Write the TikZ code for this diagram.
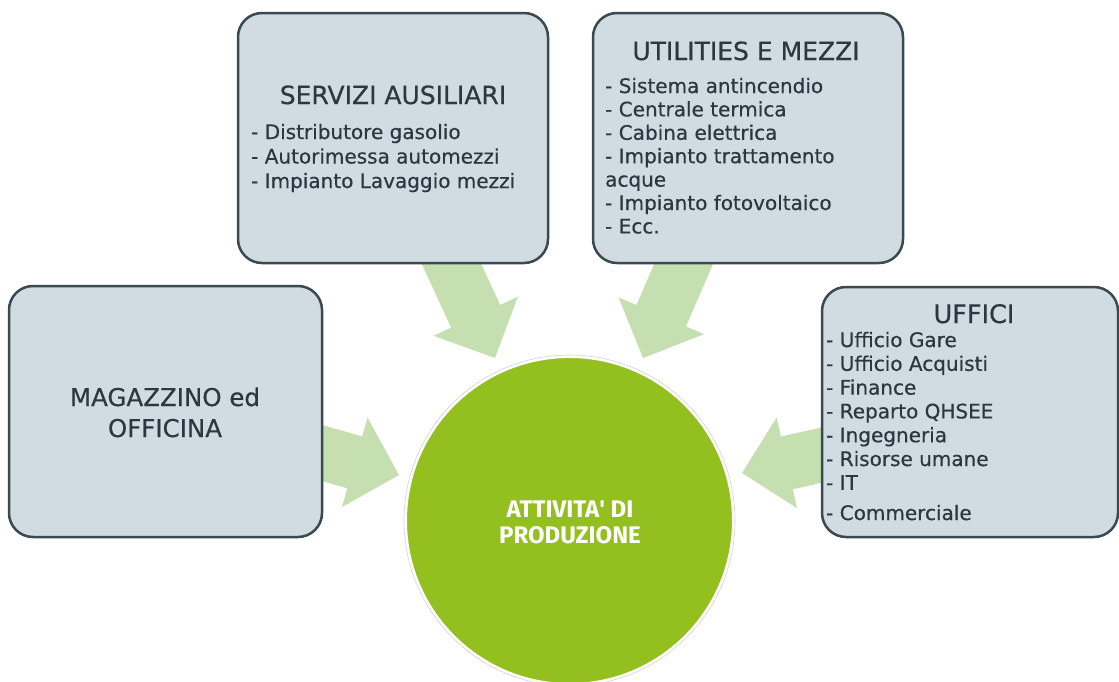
\documentclass[tikz,border=0pt]{standalone}
\usepackage{fontspec}
\setmainfont[FakeBold=0.5]{DejaVu Sans}
\newfontfamily\hubfont{Fira Sans}
\usetikzlibrary{calc}
\definecolor{boxfill}{HTML}{D0DCE1}
\definecolor{boxline}{HTML}{3A4A50}
\definecolor{txt}{HTML}{2B383F}
\definecolor{arrowgreen}{HTML}{C6DFB0}
\definecolor{hubgreen}{HTML}{93C01F}
\tikzset{
  panel/.style={draw=boxline, fill=boxfill, line width=2.5pt, rounded corners=24pt, inner sep=0pt},
  ttl/.style={text=txt, font=\fontsize{25}{29}\selectfont, anchor=base, inner sep=0pt},
  itm/.style={text=txt, font=\fontsize{20}{24}\selectfont, anchor=base west, inner sep=0pt},
  hubtxt/.style={text=white, font=\hubfont\bfseries\fontsize{24}{28}\selectfont, anchor=base, inner sep=0pt},
  blockfill/.style={fill=arrowgreen},
}
\newcommand{\blockarrow}[3]{% name, start, tip
  \coordinate (#1b) at ($(#3)!46pt!(#2)$);
  \fill[blockfill] ($(#2)!27pt!90:(#3)$) -- ($(#1b)!27pt!90:(#3)$) -- ($(#1b)!46.5pt!90:(#3)$)
    -- (#3) -- ($(#1b)!46.5pt!-90:(#3)$) -- ($(#1b)!27pt!-90:(#3)$) -- ($(#2)!27pt!-90:(#3)$) -- cycle;
}
\begin{document}
\begin{tikzpicture}[x=1pt, y=-1pt]
\useasboundingbox (0,0) rectangle (1119,681);
\clip (0,0) rectangle (1119,681);
% arrow anchors
\coordinate (s1) at (440.4,240); \coordinate (t1) at (495,358);
\coordinate (s2) at (693.9,240); \coordinate (t2) at (643,358);
\coordinate (s3) at (300,446.7); \coordinate (t3) at (399,475);
\coordinate (s4) at (845,449.8); \coordinate (t4) at (742,473);
\blockarrow{a1}{s1}{t1}
\blockarrow{a2}{s2}{t2}
\blockarrow{a3}{s3}{t3}
\blockarrow{a4}{s4}{t4}
% boxes
\node[panel, minimum width=310pt, minimum height=250pt] (serv) at (393,138) {};
\node[panel, minimum width=310pt, minimum height=250pt] (util) at (748,138) {};
\node[panel, minimum width=313pt, minimum height=251pt] (mag) at (165.5,411.5) {};
\node[panel, minimum width=296pt, minimum height=250pt] (uff) at (970,412) {};
% hub
\draw[gray!35, line width=0.6pt] (569.5,520.5) circle (165.5pt);
\node[circle, fill=hubgreen, draw=white, line width=2pt, minimum size=327pt, inner sep=0pt] (hub) at (569.5,520.5) {};
% texts
\node[ttl] (servT) at (393,104) {SERVIZI AUSILIARI};
\foreach \t [count=\i] in {- Distributore gasolio, - Autorimessa automezzi, - Impianto Lavaggio mezzi}
  \node[itm] (serv\i) at (251,{139+24.5*(\i-1)}) {\t};
\node[ttl] (utilT) at (746,60) {UTILITIES E MEZZI};
\foreach \t [count=\i] in {- Sistema antincendio, - Centrale termica, - Cabina elettrica, - Impianto trattamento, acque, - Impianto fotovoltaico, - Ecc.}
  \node[itm] (util\i) at (605,{93+23.4*(\i-1)}) {\t};
\node[ttl, font=\fontsize{25.5}{30}\selectfont] (uffT) at (974,323) {UFFICI};
\foreach \t [count=\i] in {- Ufficio Gare, - Ufficio Acquisti, - Finance, - Reparto QHSEE, - Ingegneria, - Risorse umane, - IT}
  \node[itm] (uff\i) at (826,{347+23.8*(\i-1)}) {\t};
\node[itm] (uff8) at (826,520) {- Commerciale};
\node[ttl, font=\fontsize{24.5}{29}\selectfont] (magT1) at (165,406) {MAGAZZINO ed};
\node[ttl, font=\fontsize{24.5}{29}\selectfont] (magT2) at (165,437) {OFFICINA};
\node[hubtxt] (hubT1) at (570,517) {ATTIVITA\textquotesingle{} DI};
\node[hubtxt] (hubT2) at (570,543) {PRODUZIONE};
\end{tikzpicture}
\end{document}
